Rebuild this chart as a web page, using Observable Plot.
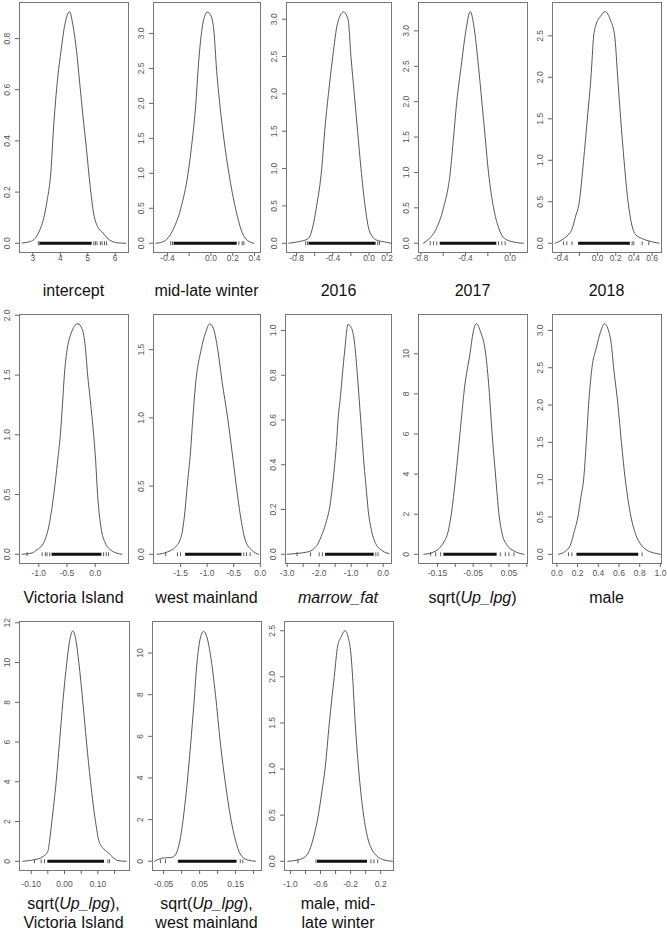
<!DOCTYPE html>
<html>
<head>
<meta charset="utf-8">
<script src="https://cdn.jsdelivr.net/npm/d3@7"></script>
<script src="https://cdn.jsdelivr.net/npm/@observablehq/plot@0.6"></script>
<style>
  html, body { margin: 0; padding: 0; background: #fff; }
  #wrap { position: relative; width: 667px; height: 929px; background: #fff; overflow: hidden; }
  .panel { position: absolute; }
  .name { position: absolute; text-align: center; font-family: "Liberation Sans", Arial, Helvetica, sans-serif; font-size: 16px; line-height: 19px; color: #111; white-space: nowrap; }
</style>
</head>
<body>
<div id="wrap"></div>
<script>
// ---------- data ----------
const panelNames = ["intercept", "mid-late winter", "2016", "2017", "2018",
  "Victoria Island", "west mainland", "<i>marrow_fat</i>", "sqrt(<i>Up_lpg</i>)", "male",
  "sqrt(<i>Up_lpg</i>),<br>Victoria Island", "sqrt(<i>Up_lpg</i>),<br>west mainland", "male, mid-<br>late winter"];

const xDomains = [[2.515, 6.485], [-0.528, 0.455], [-0.911, 0.248], [-0.821, 0.155], [-0.496, 0.703],
  [-1.341, 0.588], [-2.01, 0.005], [-3.052, 0.26], [-0.203, 0.102], [-0.042, 1.01],
  [-0.135, 0.195], [-0.081, 0.222], [-1.079, 0.37]];

const yMax = [0.905, 3.31, 3.10, 3.27, 2.79, 1.93, 1.69, 1.03, 11.5, 3.09, 11.6, 11.07, 2.50];

const xTicks = [[3, 4, 5, 6], [-0.4, -0.2, 0, 0.2, 0.4], [-0.8, -0.6, -0.4, -0.2, 0, 0.2], [-0.8, -0.6, -0.4, -0.2, 0],
  [-0.4, -0.2, 0, 0.2, 0.4, 0.6], [-1, -0.5, 0], [-1.5, -1, -0.5, 0], [-3, -2.5, -2, -1.5, -1, -0.5, 0],
  [-0.15, -0.1, -0.05, 0, 0.05, 0.1], [0, 0.2, 0.4, 0.6, 0.8, 1], [-0.1, -0.05, 0, 0.05, 0.1, 0.15],
  [-0.05, 0, 0.05, 0.1, 0.15, 0.2], [-1, -0.8, -0.6, -0.4, -0.2, 0, 0.2]];

const xTickLabels = [[3, 4, 5, 6], [-0.4, 0, 0.2, 0.4], [-0.8, -0.4, 0, 0.2], [-0.8, -0.4, 0],
  [-0.4, 0, 0.2, 0.4, 0.6], [-1, -0.5, 0], [-1.5, -1, -0.5, 0], [-3, -2, -1, 0],
  [-0.15, -0.05, 0.05], [0, 0.2, 0.4, 0.6, 0.8, 1], [-0.1, 0, 0.1],
  [-0.05, 0.05, 0.15], [-1, -0.6, -0.2, 0.2]];
const xDecimals = [0, 1, 1, 1, 1, 1, 1, 1, 2, 1, 2, 2, 1];

const yTicks = [[0, 0.2, 0.4, 0.6, 0.8], [0, 0.5, 1, 1.5, 2, 2.5, 3], [0, 0.5, 1, 1.5, 2, 2.5, 3],
  [0, 0.5, 1, 1.5, 2, 2.5, 3], [0, 0.5, 1, 1.5, 2, 2.5], [0, 0.5, 1, 1.5, 2], [0, 0.5, 1, 1.5],
  [0, 0.2, 0.4, 0.6, 0.8, 1], [0, 2, 4, 6, 8, 10], [0, 0.5, 1, 1.5, 2, 2.5, 3],
  [0, 2, 4, 6, 8, 10, 12], [0, 2, 4, 6, 8, 10], [0, 0.5, 1, 1.5, 2, 2.5]];
const yDecimals = [1, 1, 1, 1, 1, 1, 1, 1, 0, 1, 0, 0, 1];

const curveX = [
  [2.61, 2.915, 3.18, 3.40, 3.52, 3.67, 3.74, 3.83, 3.91, 4.03, 4.15, 4.34, 4.47, 4.59, 4.71, 4.83, 4.96, 5.08, 5.22, 5.38, 5.53, 5.71, 5.89, 6.13, 6.38],
  [-0.507, -0.461, -0.406, -0.354, -0.278, -0.211, -0.171, -0.140, -0.119, -0.089, -0.058, -0.034, -0.003, 0.027, 0.052, 0.082, 0.119, 0.165, 0.226, 0.287, 0.333, 0.394],
  [-0.885, -0.793, -0.681, -0.644, -0.578, -0.522, -0.49, -0.448, -0.400, -0.348, -0.281, -0.230, -0.200, -0.163, -0.126, -0.089, -0.044, 0.004, 0.078, 0.170, 0.244],
  [-0.776, -0.722, -0.672, -0.597, -0.537, -0.507, -0.478, -0.439, -0.397, -0.358, -0.319, -0.284, -0.254, -0.224, -0.194, -0.149, -0.104, -0.060, 0.015, 0.119],
  [-0.466, -0.393, -0.319, -0.282, -0.246, -0.201, -0.154, -0.113, -0.073, -0.043, -0.018, 0.030, 0.085, 0.140, 0.188, 0.221, 0.254, 0.291, 0.335, 0.371, 0.416, 0.490, 0.563, 0.674],
  [-1.294, -1.118, -1.029, -0.941, -0.882, -0.824, -0.735, -0.665, -0.618, -0.576, -0.547, -0.500, -0.429, -0.371, -0.306, -0.235, -0.176, -0.135, -0.088, -0.029, 0.006, 0.041, 0.100, 0.176, 0.294, 0.471],
  [-1.938, -1.750, -1.594, -1.513, -1.469, -1.419, -1.375, -1.313, -1.269, -1.219, -1.113, -1.031, -0.950, -0.875, -0.800, -0.719, -0.613, -0.531, -0.450, -0.375, -0.281, -0.156, -0.031],
  [-3.0, -2.687, -2.373, -2.164, -2.039, -1.903, -1.767, -1.662, -1.589, -1.516, -1.453, -1.412, -1.328, -1.276, -1.203, -1.098, -0.994, -0.889, -0.806, -0.701, -0.597, -0.534, -0.471, -0.367, -0.231, -0.022, 0.187],
  [-0.188, -0.165, -0.146, -0.132, -0.123, -0.111, -0.099, -0.087, -0.074, -0.059, -0.050, -0.041, -0.029, -0.015, -0.006, 0.003, 0.013, 0.022, 0.031, 0.045, 0.064, 0.092],
  [0.016, 0.081, 0.129, 0.171, 0.203, 0.232, 0.258, 0.284, 0.306, 0.339, 0.381, 0.419, 0.461, 0.500, 0.526, 0.548, 0.590, 0.623, 0.661, 0.716, 0.758, 0.806, 0.871, 0.935, 1.0],
  [-0.125, -0.100, -0.080, -0.065, -0.050, -0.045, -0.038, -0.025, -0.015, -0.005, 0.007, 0.015, 0.025, 0.035, 0.043, 0.055, 0.066, 0.078, 0.093, 0.103, 0.115, 0.130, 0.145, 0.160, 0.185],
  [-0.075, -0.068, -0.050, -0.031, -0.022, -0.012, -0.003, 0.006, 0.015, 0.025, 0.034, 0.043, 0.052, 0.061, 0.071, 0.080, 0.094, 0.108, 0.122, 0.136, 0.150, 0.163, 0.182, 0.205],
  [-1.034, -0.902, -0.814, -0.748, -0.682, -0.629, -0.580, -0.540, -0.483, -0.417, -0.372, -0.329, -0.275, -0.232, -0.196, -0.174, -0.139, -0.094, -0.028, 0.025, 0.078, 0.158, 0.245, 0.356]
];

const curveY = [
  [0.001, 0.007, 0.035, 0.10, 0.166, 0.297, 0.427, 0.558, 0.650, 0.754, 0.846, 0.905, 0.846, 0.754, 0.624, 0.493, 0.362, 0.231, 0.114, 0.061, 0.044, 0.020, 0.007, 0.001, 0],
  [0, 0.01, 0.057, 0.176, 0.495, 0.995, 1.486, 1.976, 2.471, 2.986, 3.248, 3.305, 3.262, 3.033, 2.471, 1.976, 1.486, 0.995, 0.495, 0.152, 0.043, 0],
  [0, 0.018, 0.054, 0.121, 0.502, 1.003, 1.496, 2.002, 2.503, 2.942, 3.099, 2.987, 2.503, 2.002, 1.496, 1.003, 0.502, 0.166, 0.045, 0.018, 0],
  [0, 0.070, 0.174, 0.502, 0.995, 1.498, 2.005, 2.498, 3.0, 3.272, 3.0, 2.498, 2.005, 1.498, 0.995, 0.502, 0.221, 0.080, 0.023, 0],
  [0, 0.040, 0.108, 0.168, 0.308, 0.501, 0.998, 1.498, 1.999, 2.500, 2.632, 2.732, 2.792, 2.692, 2.500, 1.999, 1.498, 0.998, 0.501, 0.248, 0.108, 0.056, 0.028, 0],
  [0, 0.011, 0.039, 0.075, 0.131, 0.229, 0.499, 0.787, 1.001, 1.289, 1.501, 1.707, 1.847, 1.908, 1.930, 1.888, 1.735, 1.501, 1.289, 1.001, 0.787, 0.499, 0.229, 0.095, 0.028, 0],
  [0, 0.017, 0.054, 0.103, 0.164, 0.311, 0.500, 0.752, 0.998, 1.243, 1.500, 1.623, 1.689, 1.647, 1.500, 1.267, 0.998, 0.752, 0.500, 0.287, 0.103, 0.029, 0],
  [0, 0.004, 0.010, 0.025, 0.047, 0.092, 0.151, 0.218, 0.300, 0.399, 0.507, 0.599, 0.715, 0.800, 0.908, 1.027, 1.012, 0.938, 0.800, 0.599, 0.399, 0.300, 0.200, 0.107, 0.047, 0.015, 0.003],
  [0, 0.083, 0.282, 0.615, 0.947, 2.027, 3.854, 6.013, 8.339, 10.0, 11.08, 11.5, 11.08, 10.0, 8.339, 6.013, 3.854, 2.027, 1.030, 0.449, 0.166, 0],
  [0, 0.040, 0.120, 0.320, 0.498, 0.765, 0.997, 1.500, 1.998, 2.501, 2.768, 2.968, 3.089, 2.991, 2.813, 2.501, 1.998, 1.500, 0.997, 0.498, 0.276, 0.142, 0.053, 0.018, 0],
  [0, 0.050, 0.117, 0.234, 0.501, 1.0, 2.003, 4.007, 5.993, 8.013, 10.0, 11.05, 11.59, 11.05, 10.0, 8.013, 5.993, 4.007, 2.003, 1.035, 0.668, 0.451, 0.200, 0.033, 0],
  [0, 0.07, 0.16, 0.18, 0.22, 0.51, 1.15, 2.27, 3.70, 5.62, 7.53, 9.60, 10.72, 11.04, 10.72, 9.92, 8.01, 5.62, 3.70, 2.11, 0.99, 0.35, 0.07, 0],
  [0, 0.014, 0.043, 0.116, 0.296, 0.502, 0.766, 1.001, 1.499, 2.005, 2.337, 2.428, 2.500, 2.428, 2.247, 2.005, 1.499, 1.001, 0.502, 0.260, 0.134, 0.051, 0.014, 0]
];

// rug: dense core range and sparse isolated ticks
const rugDense = [[3.28, 5.16], [-0.339, 0.241], [-0.663, 0.078], [-0.627, -0.12], [-0.209, 0.361],
  [-0.765, 0.118], [-1.406, -0.344], [-1.80, -0.28], [-0.132, 0.017], [0.194, 0.79],
  [-0.05, 0.12], [-0.009, 0.154], [-0.64, 0.025]];
const rugSparse = [
  [3.2, 3.24, 5.22, 5.28, 5.34, 5.46, 5.52, 5.61, 5.68],
  [-0.37, -0.354, 0.256, 0.287, 0.302],
  [-0.70, -0.68, 0.096, 0.115],
  [-0.716, -0.687, -0.657, -0.104, -0.075, -0.045],
  [-0.374, -0.338, -0.282, 0.38, 0.398, 0.49, 0.563],
  [-1.206, -0.941, -0.882, -0.853, -0.806, 0.147, 0.194, 0.235],
  [-1.78, -1.56, -1.5, -0.31, -0.26, -0.19],
  [-2.69, -2.27, -2.0, -1.9, -0.23, -0.16],
  [-0.169, -0.155, -0.141, 0.026, 0.040, 0.050, 0.064],
  [0.113, 0.145, 0.823],
  [-0.09, -0.07, -0.06, 0.13, 0.135],
  [-0.059, -0.045, 0.163, 0.17],
  [-0.90, -0.66, 0.07, 0.11, 0.16]
];

// ---------- layout ----------
const boxLeft = [19, 153, 286, 418, 552, 19, 153, 285, 418, 552, 18.5, 152, 283.5];
const boxRight = [128, 260, 391, 527, 661, 128, 260, 391, 527, 661, 128.5, 261, 392.5];
const rowTop = [2, 314, 621];
const rowBottom = [252, 563, 870];
const tickLabelOffset = [6, 10, 14];
const nameCenterY = [290, 597, 903];

const FONT = '"Liberation Sans", Arial, Helvetica, sans-serif';
const wrap = document.getElementById("wrap");
const mL = 20, mR = 5, mT = 8, mB = 24;

// vertical bar symbol for rug ticks (like R's "|")
const vbar = {draw(context, size) { const h = Math.sqrt(size); context.moveTo(0, -h); context.lineTo(0, h); }};

panelNames.forEach((name, i) => {
  const row = Math.floor(i / 5);
  const bw = boxRight[i] - boxLeft[i];
  const bh = rowBottom[row] - rowTop[row];
  const ym = yMax[i];
  const pts = curveX[i].map((x, j) => ({x, y: curveY[i][j]}));
  const xd = xDecimals[i], yd = yDecimals[i];

  const chart = Plot.plot({
    width: bw + mL + mR,
    height: bh + mT + mB,
    marginLeft: mL, marginRight: mR, marginTop: mT, marginBottom: mB,
    style: {background: "transparent", fontFamily: FONT, overflow: "visible"},
    x: {domain: xDomains[i], axis: null},
    y: {domain: [-0.04 * ym, 1.04 * ym], axis: null},
    marks: [
      Plot.frame({stroke: "#777", strokeWidth: 1}),
      Plot.axisX({ticks: xTicks[i], anchor: "bottom", tickSize: 4, tickFormat: () => "", label: null, stroke: "#666"}),
      Plot.text(xTickLabels[i], {x: d => d, frameAnchor: "bottom", dy: tickLabelOffset[row], lineAnchor: "middle",
        text: d => d.toFixed(xd), fontSize: 8.5, fill: "#555"}),
      Plot.axisY({ticks: yTicks[i], anchor: "left", tickSize: 4, tickFormat: () => "", label: null, stroke: "#666"}),
      Plot.text(yTicks[i], {y: d => d, frameAnchor: "left", dx: -12, rotate: -90, textAnchor: "middle", lineAnchor: "middle",
        text: d => d.toFixed(yd), fontSize: 8.5, fill: "#555"}),
      Plot.ruleY([{y: 0, x1: rugDense[i][0], x2: rugDense[i][1]}], {y: "y", x1: "x1", x2: "x2", stroke: "#111", strokeWidth: 3}),
      Plot.dot(rugSparse[i], {x: d => d, y: 0, symbol: vbar, r: 1.1, stroke: "#333", strokeWidth: 0.8, fill: "none"}),
      Plot.line(pts, {x: "x", y: "y", curve: "monotone-x", stroke: "#444", strokeWidth: 0.9})
    ]
  });

  const div = document.createElement("div");
  div.className = "panel";
  div.style.left = (boxLeft[i] - mL) + "px";
  div.style.top = (rowTop[row] - mT) + "px";
  div.appendChild(chart);
  wrap.appendChild(div);

  const lab = document.createElement("div");
  lab.className = "name";
  const cx = (boxLeft[i] + boxRight[i]) / 2;
  lab.style.left = (cx - 80) + "px";
  lab.style.width = "160px";
  lab.style.top = (nameCenterY[row] - 9.5) + "px";
  lab.innerHTML = name;
  wrap.appendChild(lab);
});
</script>
</body>
</html>
